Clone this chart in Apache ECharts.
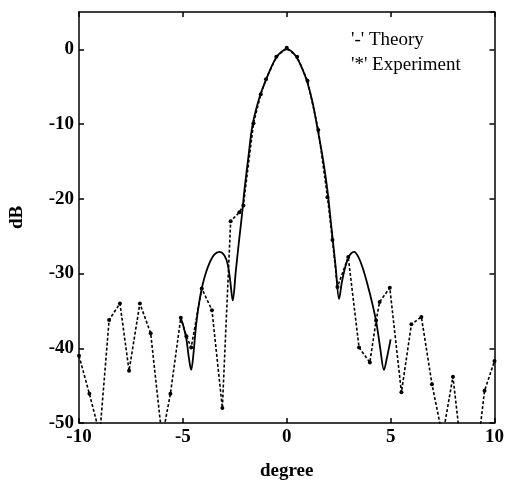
<!DOCTYPE html>
<html>
<head>
<meta charset="utf-8">
<script src="https://cdn.jsdelivr.net/npm/echarts@6/dist/echarts.min.js"></script>
<style>html,body{margin:0;padding:0;background:#fff;}#c{width:507px;height:486px;}</style>
</head>
<body>
<div id="c"></div>
<script>
// Theory curve (solid) — degree / dB
const theoryX = [-5.12,-4.98,-4.83,-4.7,-4.6,-4.5,-4.36,-4.2,-4.05,-3.88,-3.72,-3.5,-3.24,-3.0,-2.84,-2.72,-2.6,-2.45,-2.3,-2.15,-2.04,-1.85,-1.64,-1.3,-1.0,-0.75,-0.5,-0.25,0,0.25,0.5,0.75,1.0,1.25,1.48,1.75,1.96,2.15,2.35,2.52,2.65,2.8,2.96,3.1,3.24,3.45,3.65,3.88,4.1,4.31,4.5,4.68,4.82,5.0];
const theoryY = [-35.9,-37.0,-38.8,-41.5,-42.9,-41.0,-36.8,-33.6,-31.5,-29.8,-28.6,-27.5,-27.1,-27.6,-28.8,-31.0,-33.6,-29.6,-25.7,-22.0,-18.9,-14.5,-10.0,-6.3,-4.1,-2.4,-1.1,-0.3,0,-0.3,-1.2,-2.6,-4.5,-7.2,-10.6,-14.8,-18.9,-23.8,-29.0,-33.4,-31.2,-29.3,-27.9,-27.3,-27.1,-27.8,-29.2,-31.4,-33.8,-36.5,-40.0,-42.9,-41.3,-38.8];
// Experiment (dashed with dots)
const expX = [-10.0,-9.5,-9.0,-8.55,-8.03,-7.59,-7.07,-6.55,-6.0,-5.6,-5.1,-4.83,-4.6,-4.09,-3.6,-3.1,-2.7,-2.28,-2.09,-1.6,-1.25,-1.0,-0.5,0,0.5,1.0,1.52,1.96,2.2,2.44,2.96,3.48,4.0,4.3,4.47,4.96,5.52,6.0,6.48,6.99,7.5,8.0,8.5,9.0,9.52,10.0];
const expY = [-41.0,-46.1,-51.5,-36.2,-34.0,-43.0,-34.0,-38.0,-52.0,-46.1,-35.9,-38.4,-39.9,-32.0,-34.9,-48.0,-23.0,-21.8,-20.9,-9.9,-6.0,-4.0,-1.0,0.2,-1.0,-4.2,-10.8,-19.8,-25.5,-31.8,-27.8,-39.9,-41.9,-36.3,-33.8,-31.9,-45.9,-36.8,-35.8,-44.8,-51.8,-43.8,-56.0,-58.0,-45.7,-41.7];
const xTicks = {min: -10, max: 10, step: 5};
const yTicks = {min: -50, max: 5, step: 10};

const serif = '"Liberation Serif", "DejaVu Serif", serif';
const theory = theoryX.map((x, i) => [x, theoryY[i]]);
const exper = expX.map((x, i) => [x, expY[i]]);

const chart = echarts.init(document.getElementById('c'), null, {renderer: 'canvas'});
const lbl = {color: '#000', fontFamily: serif, fontSize: 19, fontWeight: 'bold'};
const nameStyle = {color: '#000', fontFamily: serif, fontSize: 19, fontWeight: 'bold'};
const axLine = {show: true, onZero: false, lineStyle: {color: '#000', width: 1.5}};
const axTick = {show: true, inside: true, length: 5, lineStyle: {color: '#000', width: 1.5}};
chart.setOption({
  animation: false,
  backgroundColor: '#fff',
  grid: {left: 79, right: 11, top: 12, bottom: 63, show: false},
  legend: {
    orient: 'vertical', left: 341, top: 26, icon: 'none', itemWidth: 0, itemHeight: 0, itemGap: 6,
    selectedMode: false,
    data: ['Theory', 'Experiment'],
    formatter: n => n === 'Theory' ? "'-' Theory" : "'*' Experiment",
    textStyle: {color: '#000', fontFamily: serif, fontSize: 19, lineHeight: 19}
  },
  xAxis: [{
    type: 'value', position: 'bottom', min: xTicks.min, max: xTicks.max, interval: xTicks.step,
    name: 'degree', nameLocation: 'middle', nameGap: 39, nameTextStyle: nameStyle,
    axisLine: axLine, axisTick: axTick,
    axisLabel: Object.assign({margin: 5}, lbl),
    splitLine: {show: false}
  }, {
    type: 'value', position: 'top', min: xTicks.min, max: xTicks.max, interval: xTicks.step,
    axisLine: axLine, axisTick: axTick,
    axisLabel: {show: false}, splitLine: {show: false}
  }],
  yAxis: [{
    type: 'value', position: 'left', min: yTicks.min, max: yTicks.max, interval: yTicks.step,
    name: 'dB', nameLocation: 'middle', nameGap: 52, nameRotate: 90, nameTextStyle: nameStyle,
    axisLine: axLine, axisTick: axTick,
    axisLabel: Object.assign({margin: 5, showMaxLabel: false}, lbl),
    splitLine: {show: false}
  }, {
    type: 'value', position: 'right', min: yTicks.min, max: yTicks.max, interval: yTicks.step,
    axisLine: axLine, axisTick: axTick,
    axisLabel: {show: false}, splitLine: {show: false}
  }],
  series: [{
    name: 'Theory', type: 'line', data: theory, smooth: 0.35, showSymbol: false, symbol: 'none',
    clip: true, lineStyle: {color: '#000', width: 1.8, type: 'solid'}, itemStyle: {color: '#000'}
  }, {
    name: 'Experiment', type: 'line', data: exper, smooth: false, symbol: 'circle', symbolSize: 4,
    clip: true, lineStyle: {color: '#000', width: 1.6, type: [3, 2]}, itemStyle: {color: '#000'}
  }]
});
</script>
</body>
</html>
